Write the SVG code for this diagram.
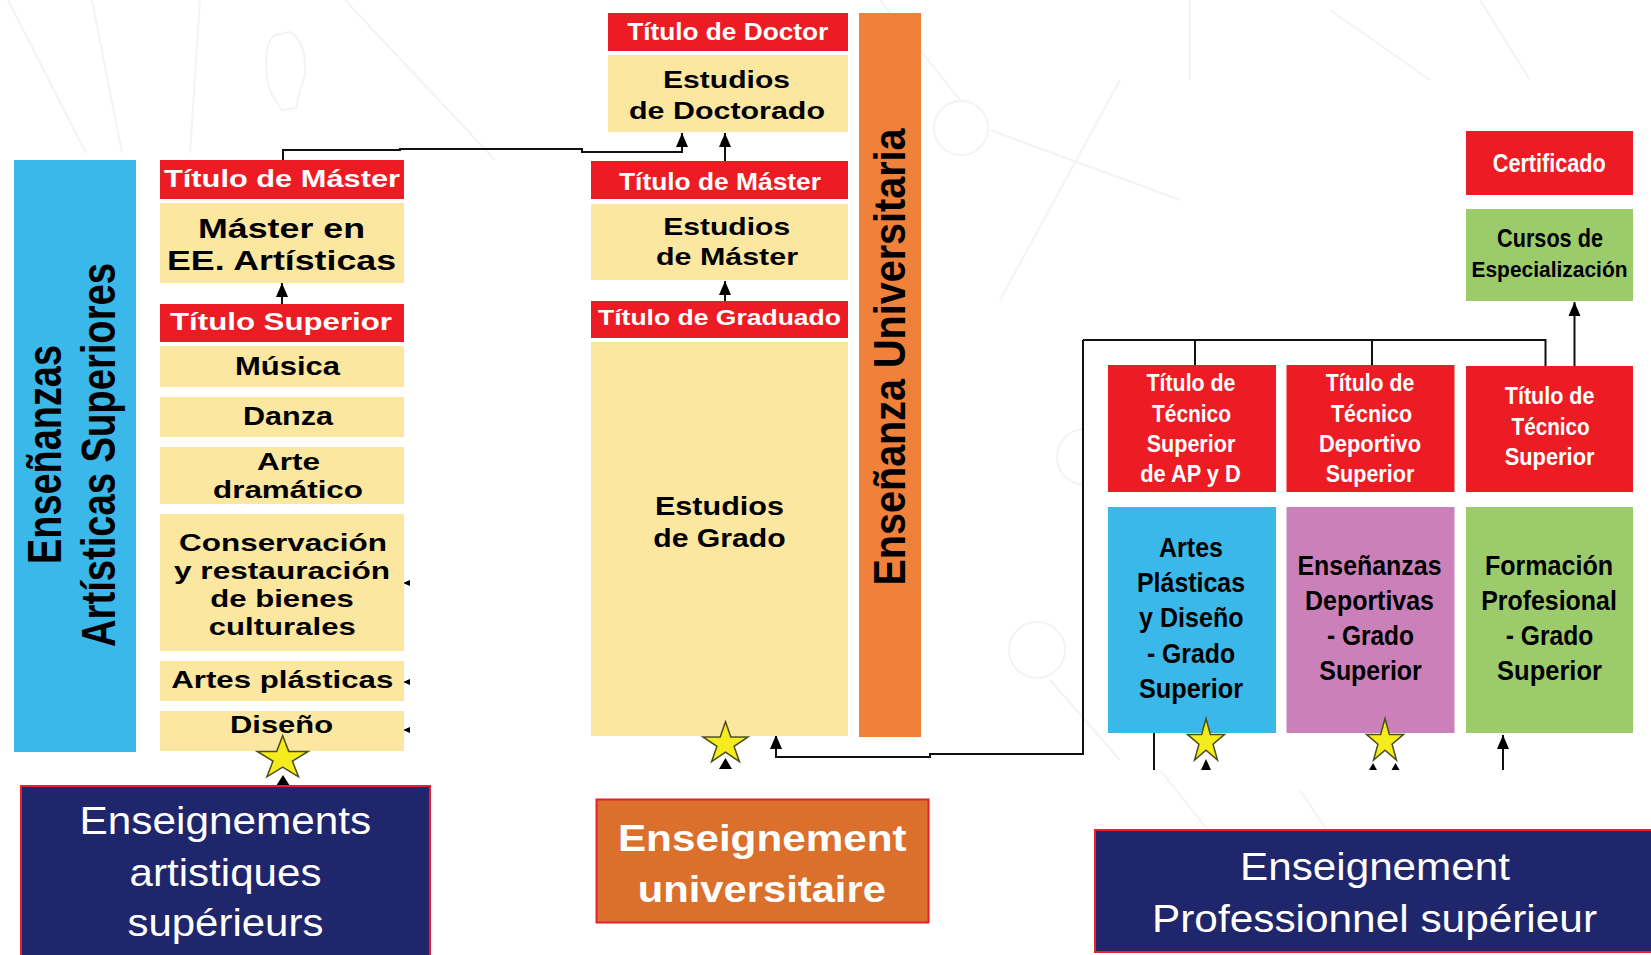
<svg xmlns="http://www.w3.org/2000/svg" width="1651" height="955" viewBox="0 0 1651 955">
<style>
text{font-family:"Liberation Sans",Arial,sans-serif;text-anchor:middle}
.b{font-weight:bold}
.w{fill:#fff}
.k{fill:#000}
.red{fill:#ED1C24}
.yel{fill:#FCE7A1}
.con{fill:none;stroke:#111;stroke-width:2}
.bg{fill:none;stroke:#f3f3f3;stroke-width:2}
.star{fill:#F4EC1C;stroke:#4d4d1a;stroke-width:1.5}
</style>
<defs>
<marker id="ah" markerUnits="userSpaceOnUse" markerWidth="14" markerHeight="14" viewBox="0 0 14 14" refX="14" refY="7" orient="auto"><path d="M0,1 L14,7 L0,13 z" fill="#000"/></marker>
<polygon id="starP" points="0,-1 0.2245,-0.309 0.951,-0.309 0.363,0.118 0.588,0.809 0,0.382 -0.588,0.809 -0.363,0.118 -0.951,-0.309 -0.2245,-0.309" vector-effect="non-scaling-stroke"/>
<clipPath id="cl1"><rect x="1000" y="400" width="83" height="120"/></clipPath>
</defs>
<rect width="1651" height="955" fill="#fff"/>
<g id="background">
<path class="bg" d="M8,0 L86,153 M92,0 L122,153 M200,0 L190,153 M345,0 L495,160 M880,0 L960,100 M990,130 L1180,200 M1120,80 L1000,300 M1190,0 L1190,80 M1330,10 L1430,80 M1480,0 L1530,80 M1050,680 L1120,760 M1160,770 L1240,870 M1300,790 L1360,880"/>
<circle class="bg" cx="961" cy="128" r="27" fill="#f7f7f7"/>
<circle class="bg" cx="1037" cy="650" r="28" fill="#f7f7f7"/>
<circle class="bg" cx="1085" cy="457" r="28" fill="#f7f7f7" clip-path="url(#cl1)"/>
<path class="bg" d="M275,35 C262,45 265,80 272,95 L282,110 L296,108 L300,90 C310,70 305,40 290,32 Z"/>
</g>
<g id="connectors">
<path class="con" d="M282,304 V283" marker-end="url(#ah)"/>
<path class="con" d="M283,160 V150 H400 V149 H582 V152 H682 V133" marker-end="url(#ah)"/>
<path class="con" d="M725,161 V133" marker-end="url(#ah)"/>
<path class="con" d="M725,301 V281" marker-end="url(#ah)"/>
<path class="con" d="M1083,340 H1545.5 V366 M1195,340 V365 M1372,340 V365"/>
<path class="con" d="M1083,340 V754 H930 V757 H776 V735" marker-end="url(#ah)"/>
<path class="con" d="M1574.5,366 V302" marker-end="url(#ah)"/>
<path class="con" d="M1503,770 V735" marker-end="url(#ah)"/>
<path class="con" d="M1154,733 V770"/>
<path d="M403,583 L410,580 L410,586 Z M403,682 L410,679 L410,685 Z M403,730 L410,727 L410,733 Z" fill="#000"/>
<path d="M283,775 L276,786 L290,786 Z M725.5,758 L719,769 L732,769 Z M1206,759 L1201,770 L1211,770 Z M1373,763 L1369,770 L1377,770 Z M1395.5,763 L1391.5,770 L1399.5,770 Z" fill="#000"/>
</g>
<g id="n-ensenanzas-artisticas">
<rect x="14" y="160" width="122" height="592" fill="#3AB8EA"/>
<text class="b k" font-size="48" textLength="219" lengthAdjust="spacingAndGlyphs" transform="translate(61,454.5) rotate(-90)">Enseñanzas</text>
<text class="b k" font-size="49" textLength="384" lengthAdjust="spacingAndGlyphs" transform="translate(115,455) rotate(-90)">Artísticas Superiores</text>
</g>
<g id="n-titulo-master-artes">
<rect class="red" x="160" y="160" width="244" height="39"/>
<text class="b w" x="282" y="187" font-size="24" textLength="236" lengthAdjust="spacingAndGlyphs">Título de Máster</text>
</g>
<g id="n-master-ee-artisticas">
<rect class="yel" x="160" y="203" width="244" height="80"/>
<text class="b k" x="281.5" y="238" font-size="27" textLength="167" lengthAdjust="spacingAndGlyphs">Máster en</text>
<text class="b k" x="281.5" y="270" font-size="27" textLength="229" lengthAdjust="spacingAndGlyphs">EE. Artísticas</text>
</g>
<g id="n-titulo-superior">
<rect class="red" x="160" y="304" width="244" height="38"/>
<text class="b w" x="281" y="330" font-size="24" textLength="222" lengthAdjust="spacingAndGlyphs">Título Superior</text>
</g>
<g id="n-musica">
<rect class="yel" x="160" y="346" width="244" height="41"/>
<text class="b k" x="287.5" y="375" font-size="25" textLength="105" lengthAdjust="spacingAndGlyphs">Música</text>
</g>
<g id="n-danza">
<rect class="yel" x="160" y="397" width="244" height="40"/>
<text class="b k" x="288" y="425" font-size="25" textLength="90" lengthAdjust="spacingAndGlyphs">Danza</text>
</g>
<g id="n-arte-dramatico">
<rect class="yel" x="160" y="447" width="244" height="57"/>
<text class="b k" x="288.5" y="470" font-size="24" textLength="63" lengthAdjust="spacingAndGlyphs">Arte</text>
<text class="b k" x="288" y="498" font-size="24" textLength="150" lengthAdjust="spacingAndGlyphs">dramático</text>
</g>
<g id="n-conservacion">
<rect class="yel" x="160" y="514" width="244" height="137"/>
<text class="b k" x="283" y="551" font-size="24" textLength="208" lengthAdjust="spacingAndGlyphs">Conservación</text>
<text class="b k" x="282" y="579" font-size="24" textLength="216" lengthAdjust="spacingAndGlyphs">y restauración</text>
<text class="b k" x="282" y="607" font-size="24" textLength="143.5" lengthAdjust="spacingAndGlyphs">de bienes</text>
<text class="b k" x="282.3" y="634.5" font-size="24" textLength="147" lengthAdjust="spacingAndGlyphs">culturales</text>
</g>
<g id="n-artes-plasticas">
<rect class="yel" x="160" y="661" width="244" height="40"/>
<text class="b k" x="282.3" y="687.5" font-size="24" textLength="222" lengthAdjust="spacingAndGlyphs">Artes plásticas</text>
</g>
<g id="n-diseno">
<rect class="yel" x="160" y="711" width="244" height="40"/>
<text class="b k" x="281.5" y="732.5" font-size="24" textLength="103" lengthAdjust="spacingAndGlyphs">Diseño</text>
</g>
<g id="n-titulo-doctor">
<rect class="red" x="608" y="13" width="240" height="38"/>
<text class="b w" x="727.7" y="39.5" font-size="23.5" textLength="201" lengthAdjust="spacingAndGlyphs">Título de Doctor</text>
</g>
<g id="n-estudios-doctorado">
<rect class="yel" x="608" y="55" width="240" height="77"/>
<text class="b k" x="726.5" y="88" font-size="24" textLength="127" lengthAdjust="spacingAndGlyphs">Estudios</text>
<text class="b k" x="727" y="118.5" font-size="24" textLength="196" lengthAdjust="spacingAndGlyphs">de Doctorado</text>
</g>
<g id="n-titulo-master-univ">
<rect class="red" x="591" y="161" width="257" height="38"/>
<text class="b w" x="720" y="189.5" font-size="23" textLength="202" lengthAdjust="spacingAndGlyphs">Título de Máster</text>
</g>
<g id="n-estudios-master">
<rect class="yel" x="591" y="204" width="257" height="76"/>
<text class="b k" x="726.7" y="235" font-size="24" textLength="127" lengthAdjust="spacingAndGlyphs">Estudios</text>
<text class="b k" x="727" y="265" font-size="24" textLength="142" lengthAdjust="spacingAndGlyphs">de Máster</text>
</g>
<g id="n-titulo-graduado">
<rect class="red" x="591" y="301" width="257" height="37"/>
<text class="b w" x="719.5" y="325" font-size="22" textLength="243" lengthAdjust="spacingAndGlyphs">Título de Graduado</text>
</g>
<g id="n-estudios-grado">
<rect class="yel" x="591" y="342" width="257" height="394"/>
<text class="b k" x="719.5" y="515" font-size="25" textLength="129" lengthAdjust="spacingAndGlyphs">Estudios</text>
<text class="b k" x="719.5" y="547" font-size="25" textLength="132.5" lengthAdjust="spacingAndGlyphs">de Grado</text>
</g>
<g id="n-ensenanza-universitaria">
<rect x="859" y="13" width="62" height="724" fill="#F0813A"/>
<text class="b k" font-size="44.5" textLength="457" lengthAdjust="spacingAndGlyphs" transform="translate(905,357) rotate(-90)">Enseñanza Universitaria</text>
</g>
<g id="n-certificado">
<rect class="red" x="1466" y="131" width="167" height="64"/>
<text class="b w" x="1549.3" y="172.3" font-size="25" textLength="113" lengthAdjust="spacingAndGlyphs">Certificado</text>
</g>
<g id="n-cursos-especializacion">
<rect x="1466" y="209" width="167" height="92" fill="#9CCB6C"/>
<text class="b k" x="1550" y="246.7" font-size="25.5" textLength="106" lengthAdjust="spacingAndGlyphs">Cursos de</text>
<text class="b k" x="1549.5" y="276.7" font-size="22" textLength="156" lengthAdjust="spacingAndGlyphs">Especialización</text>
</g>
<g id="n-titulo-tecnico-apd">
<rect class="red" x="1108" y="365" width="168" height="127"/>
<text class="b w" x="1191" y="391" font-size="24.5" textLength="89" lengthAdjust="spacingAndGlyphs">Título de</text>
<text class="b w" x="1191.5" y="421.7" font-size="24.5" textLength="79" lengthAdjust="spacingAndGlyphs">Técnico</text>
<text class="b w" x="1191" y="451.7" font-size="24.5" textLength="88.6" lengthAdjust="spacingAndGlyphs">Superior</text>
<text class="b w" x="1190.5" y="481.7" font-size="24.5" textLength="100.6" lengthAdjust="spacingAndGlyphs">de AP y D</text>
</g>
<g id="n-titulo-tecnico-deportivo">
<rect class="red" x="1286.5" y="365" width="168" height="127"/>
<text class="b w" x="1370" y="391" font-size="24.5" textLength="88.6" lengthAdjust="spacingAndGlyphs">Título de</text>
<text class="b w" x="1371.5" y="421.7" font-size="24.5" textLength="81" lengthAdjust="spacingAndGlyphs">Técnico</text>
<text class="b w" x="1370" y="451.7" font-size="24.5" textLength="102" lengthAdjust="spacingAndGlyphs">Deportivo</text>
<text class="b w" x="1370" y="481.7" font-size="24.5" textLength="88.6" lengthAdjust="spacingAndGlyphs">Superior</text>
</g>
<g id="n-titulo-tecnico-superior">
<rect class="red" x="1466" y="366" width="167" height="126"/>
<text class="b w" x="1549.6" y="404" font-size="24.5" textLength="89.7" lengthAdjust="spacingAndGlyphs">Título de</text>
<text class="b w" x="1550.6" y="435" font-size="24.5" textLength="78" lengthAdjust="spacingAndGlyphs">Técnico</text>
<text class="b w" x="1549.6" y="464.5" font-size="24.5" textLength="89.7" lengthAdjust="spacingAndGlyphs">Superior</text>
</g>
<g id="n-artes-plasticas-diseno">
<rect x="1108" y="507" width="168" height="226" fill="#3AB8EA"/>
<text class="b k" x="1191" y="557.3" font-size="28" textLength="64" lengthAdjust="spacingAndGlyphs">Artes</text>
<text class="b k" x="1191" y="591.7" font-size="28" textLength="108" lengthAdjust="spacingAndGlyphs">Plásticas</text>
<text class="b k" x="1191.3" y="627" font-size="28" textLength="104.4" lengthAdjust="spacingAndGlyphs">y Diseño</text>
<text class="b k" x="1191" y="663" font-size="28" textLength="88" lengthAdjust="spacingAndGlyphs">- Grado</text>
<text class="b k" x="1191" y="698" font-size="28" textLength="104" lengthAdjust="spacingAndGlyphs">Superior</text>
</g>
<g id="n-ensenanzas-deportivas">
<rect x="1286.5" y="507" width="168" height="226" fill="#CC80B9"/>
<text class="b k" x="1369.5" y="575" font-size="28" textLength="144" lengthAdjust="spacingAndGlyphs">Enseñanzas</text>
<text class="b k" x="1369.5" y="610" font-size="28" textLength="129" lengthAdjust="spacingAndGlyphs">Deportivas</text>
<text class="b k" x="1370.5" y="645" font-size="28" textLength="87" lengthAdjust="spacingAndGlyphs">- Grado</text>
<text class="b k" x="1370.5" y="680" font-size="28" textLength="102.5" lengthAdjust="spacingAndGlyphs">Superior</text>
</g>
<g id="n-formacion-profesional">
<rect x="1466" y="507" width="167" height="226" fill="#9CCB6C"/>
<text class="b k" x="1549" y="575" font-size="28" textLength="128" lengthAdjust="spacingAndGlyphs">Formación</text>
<text class="b k" x="1549" y="610" font-size="28" textLength="135.7" lengthAdjust="spacingAndGlyphs">Profesional</text>
<text class="b k" x="1549.5" y="645" font-size="28" textLength="87.5" lengthAdjust="spacingAndGlyphs">- Grado</text>
<text class="b k" x="1549.5" y="680" font-size="28" textLength="104.8" lengthAdjust="spacingAndGlyphs">Superior</text>
</g>
<g id="stars">
<use href="#starP" class="star" transform="translate(282.7,758.4) scale(26.8,22.7)"/>
<use href="#starP" class="star" transform="translate(725.5,743.8) scale(23.7,22.1)"/>
<use href="#starP" class="star" transform="translate(1206,741.5) scale(19.5,23)"/>
<use href="#starP" class="star" transform="translate(1385,741.5) scale(19.5,23)"/>
</g>
<g id="n-enseignements-artistiques">
<rect x="21" y="786" width="409" height="180" fill="#20266B" stroke="#E8202A" stroke-width="2"/>
<text class="w" x="225.4" y="834" font-size="39" textLength="291.6" lengthAdjust="spacingAndGlyphs">Enseignements</text>
<text class="w" x="225.5" y="885.5" font-size="39" textLength="192" lengthAdjust="spacingAndGlyphs">artistiques</text>
<text class="w" x="225.4" y="936" font-size="39" textLength="196" lengthAdjust="spacingAndGlyphs">supérieurs</text>
</g>
<g id="n-enseignement-universitaire">
<rect x="596.5" y="799.5" width="332" height="123" fill="#DB6F2C" stroke="#E8202A" stroke-width="2"/>
<text class="b w" x="762.3" y="850.7" font-size="37" textLength="288.7" lengthAdjust="spacingAndGlyphs">Enseignement</text>
<text class="b w" x="761.8" y="902.3" font-size="37" textLength="248.3" lengthAdjust="spacingAndGlyphs">universitaire</text>
</g>
<g id="n-enseignement-professionnel">
<rect x="1095" y="830" width="580" height="122" fill="#20266B" stroke="#E8202A" stroke-width="2"/>
<text class="w" x="1375" y="880" font-size="38" textLength="270" lengthAdjust="spacingAndGlyphs">Enseignement</text>
<text class="w" x="1374.5" y="931.7" font-size="38" textLength="445" lengthAdjust="spacingAndGlyphs">Professionnel supérieur</text>
</g>
</svg>
